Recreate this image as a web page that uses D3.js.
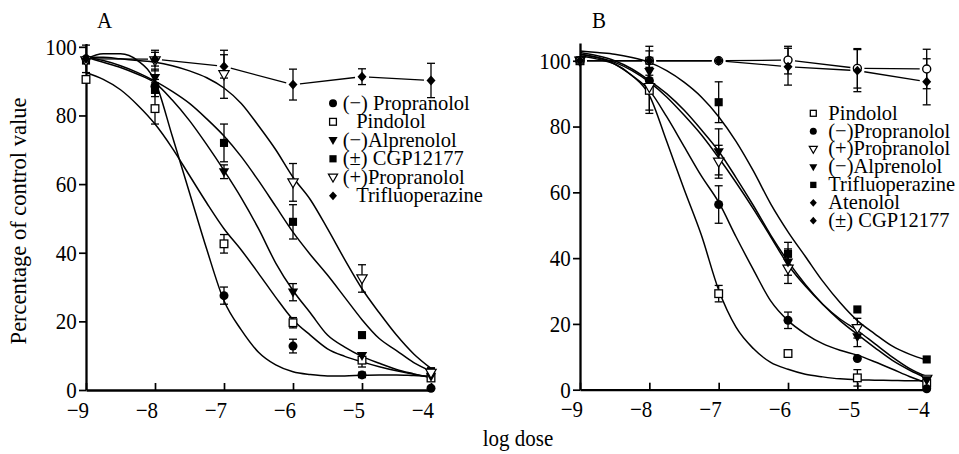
<!DOCTYPE html>
<html><head><meta charset="utf-8">
<script src="https://cdn.jsdelivr.net/npm/d3@7"></script>
<style>
body{margin:0;background:#fff;}
text{font-family:"Liberation Serif","Times New Roman",Times,serif;fill:#000;}
</style></head><body>
<svg id="chart" width="959" height="454"></svg>
<script>
// ---------- shared data ----------
const doses = [-9, -8, -7, -6, -5, -4];
const fitDoses = [-9, -8.75, -8.5, -8.25, -8, -7.75, -7.5, -7.25, -7, -6.75, -6.5, -6.25, -6, -5.75, -5.5, -5.25, -5, -4.75, -4.5, -4.25, -4];
const xTickValues = [-9, -8, -7, -6, -5, -4];
const yTickValues = [0, 20, 40, 60, 80, 100];
const xTitle = "log dose";
const yTitle = "Percentage of control value";

// ---------- panel A ----------
const aLabels = ["(−) Propranolol", "Pindolol", "(−)Alprenolol", "(±) CGP12177", "(+)Propranolol", "Trifluoperazine"];
const aPropranolol    = [96.5, 88.5, 27.5, 12.8, 4.4, 0.5];
const aPropranololErr = [0, 2, 2.5, 2, 0.8, 0];
const aPropranololFit = [96.5, 98, 98, 96, 90, 74, 57.5, 41, 26, 17.5, 11, 7.3, 5.3, 4.5, 4.1, 4.1, 4.3, 4.4, 4.4, 4.2, 4];
const aPindolol       = [90.5, 82, 42.6, 19.6, 8.7, 3.5];
const aPindololErr    = [0, 4.5, 2.7, 1.5, 2, 0];
const aPindololFit    = [92.5, 90.5, 87.5, 83, 77.5, 70.5, 62.5, 54.5, 47, 40.8, 34, 27, 20.5, 16, 12, 9.8, 8.2, 6.8, 5.6, 4.6, 3.8];
const aAlprenolol     = [96, 91, 63.6, 28.5, 10, 4];
const aAlprenololErr  = [0, 2.5, 2, 2.5, 0, 0];
const aAlprenololFit  = [97, 95.5, 94, 92, 89.5, 84.5, 78.5, 71.5, 64, 56, 47, 37, 29, 22.5, 16, 12.5, 9.8, 7.8, 6, 4.7, 3.5];
const aCGP            = [96, 87.5, 72, 49, 16, 5.5];
const aCGPErr         = [0, 2, 5.5, 5, 0, 0];
const aCGPFit         = [97, 96, 94.5, 92.5, 90, 87, 83.5, 79, 74, 68, 61, 53.5, 46, 39.5, 33.5, 27, 20.5, 15, 11.5, 8, 5.5];
const aPlusProp       = [96, 96, 92, 60.5, 32.5, 5];
const aPlusPropErr    = [0, 3, 7, 5.5, 4, 0];
const aPlusPropFit    = [97, 97, 96.5, 96, 95.5, 94.5, 93, 91, 88, 83.5, 77, 70, 62, 55.5, 47, 38, 29.5, 22.5, 16, 10.5, 6.3];
const aTrifluo        = [96.5, 96.4, 94.3, 89, 91.3, 90.2];
const aTrifluoErr     = [4, 2, 3.4, 4.5, 2.3, 5];

// ---------- panel B ----------
const bLabels = ["Pindolol", "(−)Propranolol", "(+)Propranolol", "(−)Alprenolol", "Trifluoperazine", "Atenolol", "(±) CGP12177"];
const bPindolol       = [100, 91, 29.2, 11, 3.6, 2];
const bPindololErr    = [0, 7, 2.5, 0, 2.5, 0];
const bPindololFit    = [101.5, 100.5, 99, 95.5, 89.5, 75.5, 61, 47, 30.3, 19, 12.5, 8.3, 6.2, 4.7, 3.9, 3.3, 3.0, 2.9, 2.8, 2.7, 2.7];
const bPropranolol    = [100, 94, 56.3, 21.1, 9.5, 0.3];
const bPropranololErr = [0, 9, 5.7, 2.5, 0, 0];
const bPropranololFit = [102, 101, 99, 95.5, 91, 83, 74, 65, 57, 46.5, 36.5, 27, 21, 17, 14, 12, 10.5, 8.5, 6.3, 4, 2];
const bPlusProp       = [100, 92, 69.3, 36.8, 18.7, 3.3];
const bPlusPropErr    = [0, 0, 5, 4.5, 3, 0];
const bPlusPropFit    = [102, 101, 99.5, 97, 93.5, 89, 83.5, 77.5, 70.5, 63, 55, 46.5, 38, 31.5, 26, 21.5, 18, 14, 10, 6.5, 4];
const bAlprenolol     = [100, 96.7, 72.3, 38.8, 16.1, 3];
const bAlprenololErr  = [0, 3, 7, 4, 3, 0];
const bAlprenololFit  = [102.5, 101.5, 100, 97.5, 94, 90, 85, 79, 72.5, 64.5, 56, 47, 39, 32, 26, 21, 16.8, 12.8, 9, 6, 3.5];
const bTrifluo        = [100, 100, 87.4, 41.3, 24.4, 9.2];
const bTrifluoErr     = [0, 4.4, 6.2, 3.5, 0, 0];
const bTrifluoFit     = [103, 102.5, 102, 101, 99.5, 97, 93.5, 89, 83, 75.5, 66.5, 56.5, 48, 40.5, 33, 26.5, 21, 17, 13.3, 10.8, 9];
const bAtenolol       = [100, 100, 100, 98.2, 97, 93.6];
const bAtenololErr    = [0, 0, 0, 5.6, 6.4, 7];
const bCGP            = [100, 100, 100, 100.2, 97.7, 97.5];
const bCGPErr         = [0, 0, 0, 4.2, 6, 6];

// ---------- series tables ----------
const seriesA = [
  {name: aLabels[0], mark: "circle",     legendMark: "circle",     vals: aPropranolol, errs: aPropranololErr, fit: aPropranololFit},
  {name: aLabels[1], mark: "opensquare", legendMark: "opensquare", vals: aPindolol,    errs: aPindololErr,    fit: aPindololFit},
  {name: aLabels[2], mark: "tri",        legendMark: "tri",        vals: aAlprenolol,  errs: aAlprenololErr,  fit: aAlprenololFit},
  {name: aLabels[3], mark: "square",     legendMark: "square",     vals: aCGP,         errs: aCGPErr,         fit: aCGPFit},
  {name: aLabels[4], mark: "opentri",    legendMark: "opentri",    vals: aPlusProp,    errs: aPlusPropErr,    fit: aPlusPropFit},
  {name: aLabels[5], mark: "diamond",    legendMark: "diamond",    vals: aTrifluo,     errs: aTrifluoErr,     fit: null, connect: true}
];
const seriesB = [
  {name: bLabels[0], mark: "opensquare", legendMark: "opensquare", vals: bPindolol,    errs: bPindololErr,    fit: bPindololFit},
  {name: bLabels[1], mark: "circle",     legendMark: "circle",     vals: bPropranolol, errs: bPropranololErr, fit: bPropranololFit},
  {name: bLabels[2], mark: "opentri",    legendMark: "opentri",    vals: bPlusProp,    errs: bPlusPropErr,    fit: bPlusPropFit},
  {name: bLabels[3], mark: "tri",        legendMark: "tri",        vals: bAlprenolol,  errs: bAlprenololErr,  fit: bAlprenololFit},
  {name: bLabels[4], mark: "square",     legendMark: "square",     vals: bTrifluo,     errs: bTrifluoErr,     fit: bTrifluoFit},
  {name: bLabels[6], mark: "opencircle", legendMark: "diamond",    vals: bCGP,         errs: bCGPErr,         fit: null, connect: true, legendIndex: 6},
  {name: bLabels[5], mark: "diamond",    legendMark: "diamond",    vals: bAtenolol,    errs: bAtenololErr,    fit: null, connect: true, legendIndex: 5}
];

// ---------- layout ----------
const SY = 1.1;
const FS = 21;
const LFS = 20.5;
const LSY = 1.04;
const panels = [
  {id: "A", series: seriesA, x0: 86, x1: 431, y0: 390, y1: 43.4, yMax: 101,
   labelX: 97, legendX: 333, legendY: 103.3, legendDy: 18.5, textX: 342.7, plainIndent: 13.5, legendSize: 8},
  {id: "B", series: seriesB, x0: 580, x1: 926.7, y0: 389.7, y1: 43, yMax: 105.4,
   labelX: 592, legendX: 813.3, legendY: 113.3, legendDy: 17.9, textX: 828.3, plainIndent: 0, legendSize: 7}
];

const svg = d3.select("#chart");

function txt(g, str, x, y, anchor, size, sy) {
  return g.append("text")
    .attr("transform", `translate(${x},${y}) scale(1,${sy})`)
    .attr("text-anchor", anchor)
    .style("font-size", size + "px")
    .text(str);
}

function drawMarker(g, type, cx, cy, s) {
  const h = s / 2;
  if (type === "circle") {
    g.append("circle").attr("cx", cx).attr("cy", cy).attr("r", h).attr("fill", "#000");
  } else if (type === "opencircle") {
    g.append("circle").attr("cx", cx).attr("cy", cy).attr("r", h - 0.5)
      .attr("fill", "#fff").attr("stroke", "#000").attr("stroke-width", 1.4);
  } else if (type === "square") {
    g.append("rect").attr("x", cx - h * 0.9).attr("y", cy - h * 0.9).attr("width", s * 0.9).attr("height", s * 0.9).attr("fill", "#000");
  } else if (type === "opensquare") {
    g.append("rect").attr("x", cx - h * 0.85).attr("y", cy - h * 0.85).attr("width", s * 0.85).attr("height", s * 0.85)
      .attr("fill", "#fff").attr("stroke", "#000").attr("stroke-width", 1.3);
  } else if (type === "tri" || type === "opentri") {
    const p = `M${cx - h * 1.15},${cy - h * 0.8}L${cx + h * 1.15},${cy - h * 0.8}L${cx},${cy + h * 1.2}Z`;
    const el = g.append("path").attr("d", p);
    if (type === "tri") el.attr("fill", "#000");
    else el.attr("fill", "#fff").attr("stroke", "#000").attr("stroke-width", 1.2).attr("stroke-linejoin", "miter");
  } else if (type === "diamond") {
    const p = `M${cx},${cy - h * 1.1}L${cx + h},${cy}L${cx},${cy + h * 1.1}L${cx - h},${cy}Z`;
    g.append("path").attr("d", p).attr("fill", "#000");
  }
}

panels.forEach(P => {
  const g = svg.append("g");
  const x = d3.scaleLinear().domain([-9, -4]).range([P.x0, P.x1]);
  const y = d3.scaleLinear().domain([0, P.yMax]).range([P.y0, P.y1]);

  // axes
  const yAxis = g.append("g").attr("transform", `translate(${P.x0},0)`)
    .call(d3.axisLeft(y).tickValues(yTickValues).tickSizeInner(7).tickSizeOuter(0).tickPadding(0)
      .tickFormat(d3.format("d")));
  yAxis.select(".domain").attr("stroke-width", 2.3);
  yAxis.selectAll(".tick line").attr("stroke-width", 1.7);
  yAxis.selectAll(".tick text")
    .attr("x", null).attr("dy", null).attr("y", null)
    .attr("transform", `translate(-9.3,7.3) scale(1,${SY})`)
    .attr("text-anchor", "end")
    .style("font-size", FS + "px")
    .style("font-family", '"Liberation Serif",serif');

  const xAxis = g.append("g").attr("transform", `translate(0,${P.y0})`)
    .call(d3.axisBottom(x).tickValues(xTickValues).tickSizeInner(-7).tickSizeOuter(0)
      .tickFormat(d3.format("d")));
  xAxis.select(".domain").attr("stroke-width", 2.3);
  xAxis.selectAll(".tick line").attr("stroke-width", 1.7);
  xAxis.selectAll(".tick text")
    .attr("x", null).attr("dy", null).attr("y", null)
    .attr("transform", `translate(2.5,27.5) scale(1,${SY})`)
    .attr("text-anchor", "end")
    .style("font-size", FS + "px")
    .style("font-family", '"Liberation Serif",serif');
  g.selectAll(".domain").attr("stroke", "#000");

  // panel label
  txt(g, P.id, P.labelX, 28.3, "start", FS, SY);

  const plot = g.append("g");
  const line = d3.line().x(d => x(d[0])).y(d => y(d[1])).curve(d3.curveMonotoneX);

  // fitted curves
  P.series.forEach(s => {
    if (!s.fit) return;
    plot.append("path").datum(fitDoses.map((d, i) => [d, s.fit[i]]))
      .attr("d", line).attr("fill", "none").attr("stroke", "#000").attr("stroke-width", 1.5);
  });
  // connecting lines (gapped near markers)
  P.series.forEach(s => {
    if (!s.connect) return;
    for (let i = 0; i < doses.length - 1; i++) {
      const xa = x(doses[i]), ya = y(s.vals[i]), xb = x(doses[i + 1]), yb = y(s.vals[i + 1]);
      const L = Math.hypot(xb - xa, yb - ya), gap = 7;
      const ux = (xb - xa) / L, uy = (yb - ya) / L;
      plot.append("line")
        .attr("x1", xa + ux * gap).attr("y1", ya + uy * gap)
        .attr("x2", xb - ux * gap).attr("y2", yb - uy * gap)
        .attr("stroke", "#000").attr("stroke-width", 1.3);
    }
  });
  // error bars
  P.series.forEach(s => {
    doses.forEach((d, i) => {
      const e = s.errs[i];
      if (!e) return;
      const cx = x(d), top = y(s.vals[i] + e), bot = y(s.vals[i] - e);
      plot.append("line").attr("x1", cx).attr("x2", cx).attr("y1", top).attr("y2", bot)
        .attr("stroke", "#000").attr("stroke-width", 1.3);
      [top, bot].forEach(yy => plot.append("line").attr("x1", cx - 4).attr("x2", cx + 4)
        .attr("y1", yy).attr("y2", yy).attr("stroke", "#000").attr("stroke-width", 1.3));
    });
  });
  // markers
  P.series.forEach(s => {
    doses.forEach((d, i) => drawMarker(plot, s.mark, x(d), y(s.vals[i]), 9));
  });

  // legend
  const lg = g.append("g");
  P.series.forEach((s, k) => {
    const idx = s.legendIndex !== undefined ? s.legendIndex : k;
    const my = P.legendY + idx * P.legendDy;
    drawMarker(lg, s.legendMark, P.legendX, my, P.legendSize);
    const indent = s.name.startsWith("(") ? 0 : P.plainIndent;
    txt(lg, s.name, P.textX + indent, my + 6.3, "start", LFS, LSY);
  });
});

// axis titles
txt(svg, xTitle, 518, 446, "middle", FS, SY);
svg.append("text")
  .attr("transform", "translate(26,221) rotate(-90)")
  .attr("text-anchor", "middle")
  .style("font-size", "22.5px")
  .text(yTitle);
</script>
</body></html>
